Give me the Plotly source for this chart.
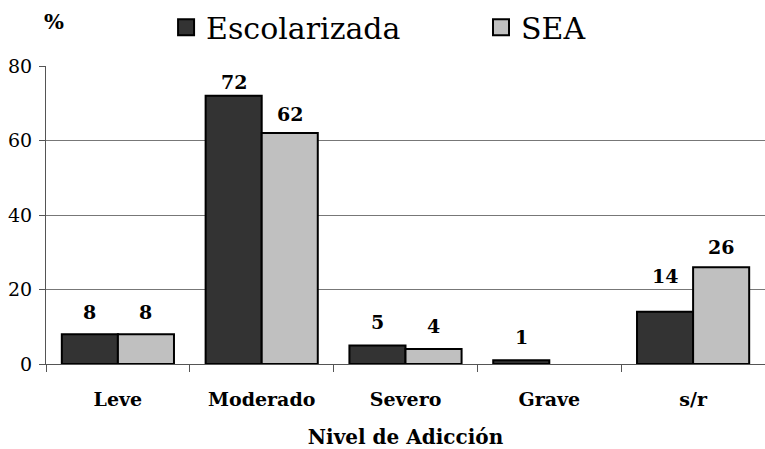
import plotly.graph_objects as go

categories = ["Leve", "Moderado", "Severo", "Grave", "s/r"]
escolarizada = [8, 72, 5, 1, 14]
sea = [8, 62, 4, 0, 26]
series_names = ["Escolarizada", "SEA"]
y_ticks = [0, 20, 40, 60, 80]

# label offsets (pixels above bar tops), per series, per category
label_shift_esc = [22, 14, 23, 23, 36]
label_shift_sea = [22, 19, 23, 23, 20]

FONT = "DejaVu Serif"
dark = "#333333"
light = "#c0c0c0"

fig = go.Figure()
for name, vals, col, lg in [(series_names[0], escolarizada, dark, "legend"),
                            (series_names[1], sea, light, "legend2")]:
    fig.add_trace(go.Bar(
        x=categories, y=vals, name=name, showlegend=False,
        marker=dict(color=col, line=dict(color="black", width=[2 if v != 0 else 0 for v in vals])),
    ))
    # legend proxies
    fig.add_trace(go.Scatter(
        x=[None], y=[None], mode="markers", name=name, legend=lg,
        marker=dict(symbol="square", size=22, color=col, line=dict(color="black", width=2)),
    ))

# value labels
for vals, off, shifts in [(escolarizada, -0.5, label_shift_esc), (sea, 0.5, label_shift_sea)]:
    for j, v in enumerate(vals):
        if v == 0:
            continue
        fig.add_annotation(
            x=j + off * 0.39, y=v, text="<b>%d</b>" % v, showarrow=False,
            yanchor="middle", yshift=shifts[j], xref="x", yref="y",
            font=dict(family=FONT, size=19, color="black"),
        )

fig.add_annotation(
    x=-0.006, y=1.15, xref="paper", yref="paper", text="<b>%</b>", showarrow=False,
    xanchor="left", yanchor="middle", font=dict(family=FONT, size=21, color="black"),
)

leg_common = dict(
    orientation="h", y=1.13, xanchor="left", yanchor="middle",
    font=dict(family=FONT, size=30, color="black"),
    itemsizing="trace", bgcolor="rgba(0,0,0,0)",
)

fig.update_layout(
    width=765, height=449,
    margin=dict(l=46, r=0, t=66, b=85, autoexpand=False),
    paper_bgcolor="white", plot_bgcolor="white",
    barmode="group", bargap=0.22, bargroupgap=0,
    font=dict(family=FONT, color="black"),
    legend=dict(x=0.167, **leg_common),
    legend2=dict(x=0.605, **leg_common),
    xaxis=dict(
        tickson="boundaries", ticks="outside", ticklen=7, tickcolor="#555",
        showline=True, linecolor="#555", linewidth=1,
        tickfont=dict(family=FONT, size=19, color="black"),
        tickprefix="<b>", ticksuffix="</b>",
        ticklabelstandoff=18, automargin=False,
        title=dict(text="<b>Nivel de Adicción</b>", font=dict(family=FONT, size=20, color="black"), standoff=26),
        range=[-0.5, 4.5],
    ),
    yaxis=dict(
        range=[0, 80], tickvals=y_ticks, ticks="outside", ticklen=6, tickcolor="#555",
        showline=True, linecolor="#555", linewidth=1,
        showgrid=True, gridcolor="#777", gridwidth=1,
        tickfont=dict(family=FONT, size=19, color="black"),
        tickprefix="<b>", ticksuffix="</b>",
        ticklabelstandoff=3, automargin=False,
        zeroline=False,
    ),
)

fig.write_html("out.html", config={"displayModeBar": False},
               post_script="document.body.style.margin='0';")
